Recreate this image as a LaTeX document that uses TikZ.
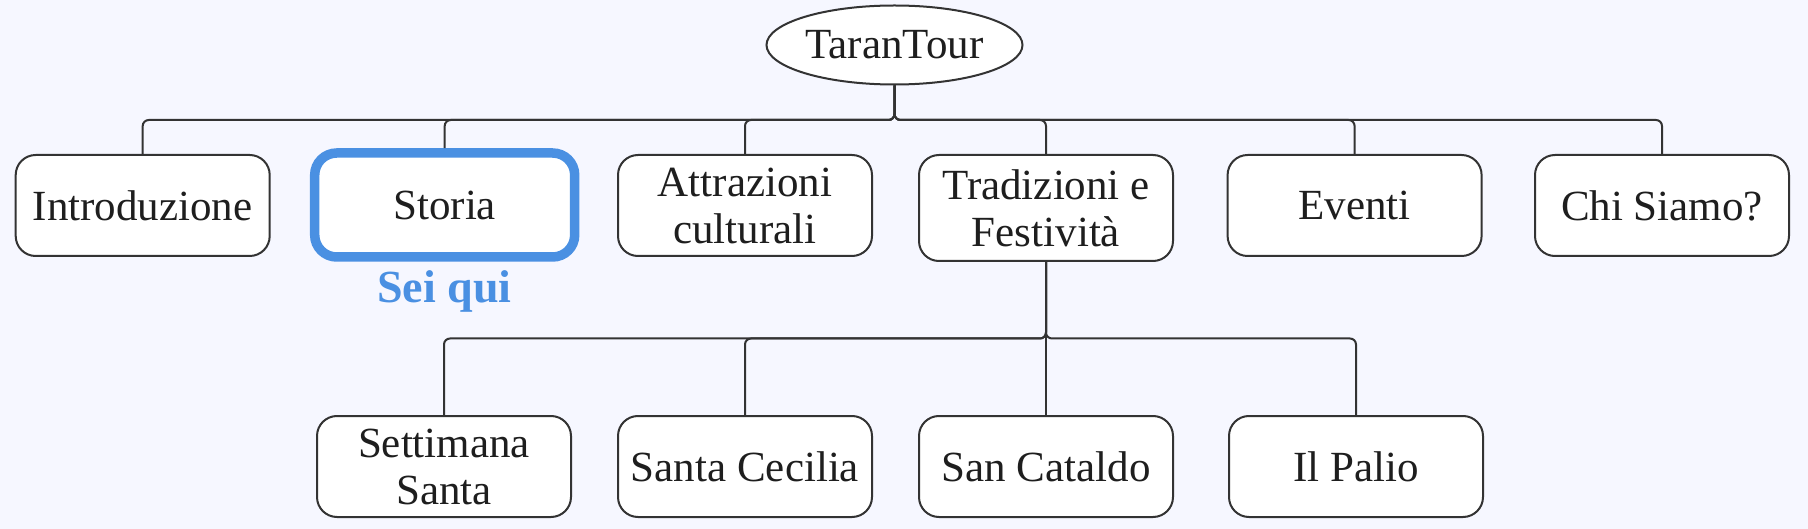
\documentclass[tikz,border=0pt]{standalone}
\usepackage{fontspec}
\setmainfont{Liberation Serif}
\usetikzlibrary{shapes.geometric}
\definecolor{bgcol}{RGB}{246,247,255}
\definecolor{linecol}{RGB}{51,51,51}
\definecolor{textcol}{RGB}{30,30,30}
\definecolor{herecol}{RGB}{74,144,226}
\begin{document}
\begin{tikzpicture}[x=1pt,y=-1pt,
  box/.style={draw=linecol,line width=2pt,fill=white,rounded corners=20pt,
    minimum width=254pt,minimum height=101pt,inner sep=0pt,align=center,
    text=textcol,font=\fontsize{43}{47}\selectfont},
  herebox/.style={box,draw=herecol,line width=9.5pt,rounded corners=22pt,
    minimum width=260pt,minimum height=104pt},
  link/.style={draw=linecol,line width=2pt,rounded corners=6pt},
  rootnode/.style={ellipse,draw=linecol,line width=2pt,fill=white,
    minimum width=256pt,minimum height=79pt,inner sep=0pt,text=textcol,
    font=\fontsize{43}{47}\selectfont}]
\fill[bgcol] (0,0) rectangle (1808,529);
\useasboundingbox (0,0) rectangle (1808,529);

\coordinate (busA) at (0,120);
\coordinate (busB) at (0,338.5);

\node[rootnode] (root) at (894.5,45) {TaranTour};

\node[box] (intro) at (142.7,205.5) {Introduzione};
\node[herebox] (storia) at (444.7,205) {Storia};
\node[box] (attr) at (745,205.5) {Attrazioni\\culturali};
\node[box,minimum height=106pt] (trad) at (1046,208) {Tradizioni e\\Festività};
\node[box] (eventi) at (1354.6,205.5) {Eventi};
\node[box] (chi) at (1662,205.5) {Chi Siamo?};

\node[anchor=base,text=herecol,font=\fontsize{46}{50}\selectfont\bfseries,inner sep=0pt] (here) at (444.5,303) {Sei qui};

\node[box] (sett) at (444,466.5) {Settimana\\Santa};
\node[box] (cecilia) at (745,466.5) {Santa Cecilia};
\node[box] (cataldo) at (1046,466.5) {San Cataldo};
\node[box] (palio) at (1356,466.5) {Il Palio};

\foreach \c in {intro,storia,attr,trad,eventi,chi}{
  \draw[link] (root.south) -- (root.south |- busA) -| (\c.north);
}
\foreach \c in {sett,cecilia,cataldo,palio}{
  \draw[link] (trad.south) -- (trad.south |- busB) -| (\c.north);
}
\end{tikzpicture}
\end{document}
